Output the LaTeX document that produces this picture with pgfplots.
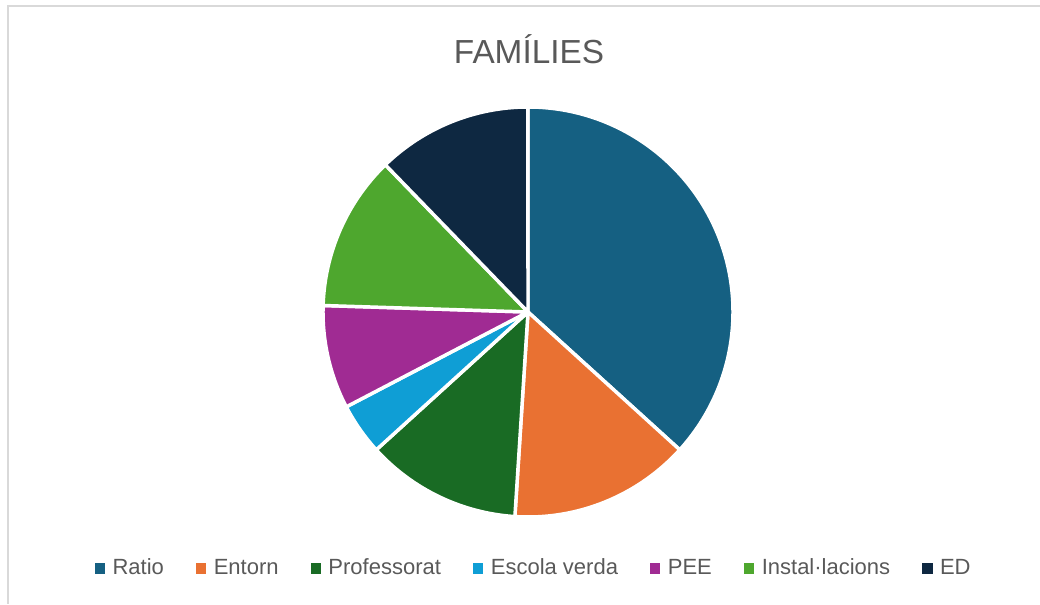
\documentclass[border=0pt]{standalone}
\usepackage{pgfplots}
\pgfplotsset{compat=1.18}
\usepackage{pgfplotstable}
\usepackage{fontspec}
\setmainfont{Liberation Sans}
\definecolor{cRatio}{HTML}{156082}
\definecolor{cEntorn}{HTML}{E97132}
\definecolor{cProf}{HTML}{196B24}
\definecolor{cEsc}{HTML}{0F9ED5}
\definecolor{cPEE}{HTML}{A02B93}
\definecolor{cInst}{HTML}{4EA72E}
\definecolor{cED}{HTML}{0E2841}
\definecolor{txt}{HTML}{595959}
\definecolor{frame}{HTML}{D9D9D9}
\begin{document}
\begin{tikzpicture}
\begin{axis}[
  at={(0,0)}, anchor=south west,
  x=0.75pt, y=0.75pt,
  xmin=0, xmax=1040, ymin=0, ymax=604,
  hide axis, clip=false,
  legend columns=7,
  legend style={draw=none, fill=none, at={(axis cs:534,36)}, anchor=center,
    font=\fontsize{16.5}{18}\selectfont, text=txt,
    /tikz/every even column/.append style={column sep=22pt},
    /tikz/every odd column/.append style={column sep=4pt},
    inner sep=0pt},
  legend cell align=left,
]
\addlegendimage{legend image code/.code={\fill[cRatio] (0pt,-3.6pt) rectangle (7pt,3.4pt);}}
\addlegendentry{Ratio}
\addlegendimage{legend image code/.code={\fill[cEntorn] (0pt,-3.6pt) rectangle (7pt,3.4pt);}}
\addlegendentry{Entorn}
\addlegendimage{legend image code/.code={\fill[cProf] (0pt,-3.6pt) rectangle (7pt,3.4pt);}}
\addlegendentry{Professorat}
\addlegendimage{legend image code/.code={\fill[cEsc] (0pt,-3.6pt) rectangle (7pt,3.4pt);}}
\addlegendentry{Escola verda}
\addlegendimage{legend image code/.code={\fill[cPEE] (0pt,-3.6pt) rectangle (7pt,3.4pt);}}
\addlegendentry{PEE}
\addlegendimage{legend image code/.code={\fill[cInst] (0pt,-3.6pt) rectangle (7pt,3.4pt);}}
\addlegendentry{Instal·lacions}
\addlegendimage{legend image code/.code={\fill[cED] (0pt,-3.6pt) rectangle (7pt,3.4pt);}}
\addlegendentry{ED}
\pgfplotsextra{
  \draw[frame, line width=1.5pt] (axis cs:8,0) -- (axis cs:8,598) -- (axis cs:1040,598);
  \node[text=txt, font=\fontsize{25}{29}\selectfont] at (axis cs:529,555) {FAMÍLIES};
  \gdef\acc{90}
  \foreach \v/\c in {18/cRatio, 7/cEntorn, 6/cProf, 2/cEsc, 4/cPEE, 6/cInst, 6/cED}{
    \pgfmathsetmacro\a{\acc}
    \pgfmathsetmacro\b{\acc - \v/49*360}
    \fill[\c, draw=white, line width=2.6pt, line join=round] (axis cs:528,292) -- ++(\a:153.75pt) arc[start angle=\a, end angle=\b, radius=153.75pt] -- cycle;
    \global\let\acc\b
  }
}
\end{axis}
\pgfresetboundingbox
\useasboundingbox (0,0) rectangle (780pt,453pt);
\end{tikzpicture}
\end{document}
